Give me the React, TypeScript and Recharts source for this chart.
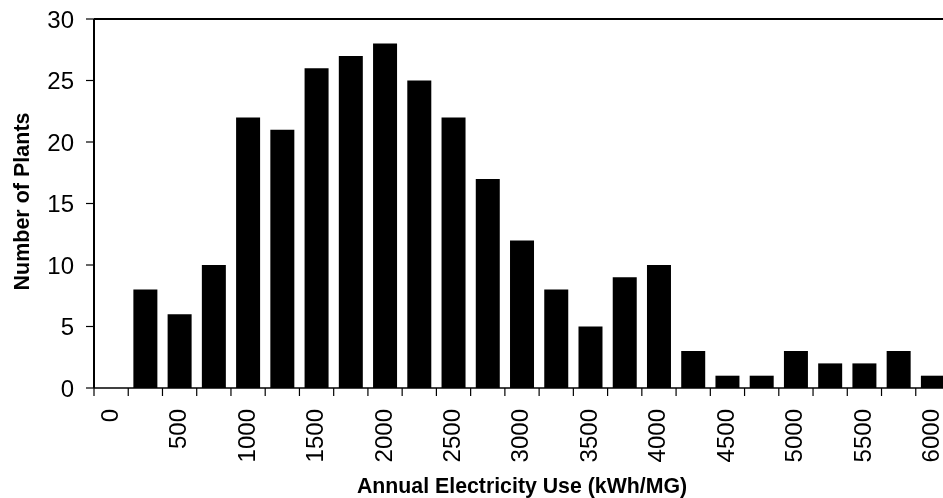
import { BarChart, Bar, XAxis, YAxis, ReferenceLine } from 'recharts';

// bins of annual electricity use (kWh/MG), one bar per 250
const binLabels = [
  '0', '250', '500', '750', '1000', '1250', '1500', '1750', '2000',
  '2250', '2500', '2750', '3000', '3250', '3500', '3750', '4000',
  '4250', '4500', '4750', '5000', '5250', '5500', '5750', '6000',
];
const plantCounts = [
  null, 8, 6, 10, 22, 21, 26, 27, 28, 25, 22, 17, 12,
  8, 5, 9, 10, 3, 1, 1, 3, 2, 2, 3, 1,
];
const yTicks = [0, 5, 10, 15, 20, 25, 30];

const font = '"Liberation Sans", Arial, sans-serif';

const data = binLabels.map((bin, i) => ({ bin, plants: plantCounts[i] }));

// excel-style axis: tick marks sit on the bin edges, label every other bin
const BinTick = (props: any) => {
  const { x, y, payload, index, width, visibleTicksCount } = props;
  const band = width / visibleTicksCount;
  const edge = x - band / 2;
  const ty = y + 21;
  return (
    <g>
      <line x1={edge} y1={y} x2={edge} y2={y + 8} stroke="#000" strokeWidth={1.2} />
      {index % 2 === 0 && (
        <text
          x={x}
          y={ty}
          transform={`rotate(-90, ${x}, ${ty})`}
          textAnchor="end"
          dy="0.27em"
          fontSize={24}
          fontFamily={font}
          fill="#000"
        >
          {payload.value}
        </text>
      )}
    </g>
  );
};

export default function App() {
  // fixed box so the wider-than-window plot is clipped without scrollbars
  return (
    <div style={{ position: 'fixed', left: 8, top: 0, width: 935, height: 498, overflow: 'hidden' }}>
      <BarChart
        width={950}
        height={498}
        data={data}
        margin={{ top: 19, right: 8, left: 0, bottom: 0 }}
        barCategoryGap="15%"
        style={{ fontFamily: font }}
      >
        <XAxis
          dataKey="bin"
          interval={0}
          tickLine={false}
          tickSize={0}
          tickMargin={0}
          height={110}
          axisLine={{ stroke: '#000', strokeWidth: 1.5 }}
          tick={<BinTick />}
          label={{
            value: 'Annual Electricity Use (kWh/MG)',
            position: 'insideBottom',
            offset: 5,
            fontSize: 21.3,
            fontWeight: 'bold',
            fill: '#000',
          }}
        />
        <YAxis
          width={86}
          domain={[0, 30]}
          ticks={yTicks}
          interval={0}
          tickSize={8}
          tickMargin={12}
          axisLine={{ stroke: '#000', strokeWidth: 2 }}
          tickLine={{ stroke: '#000', strokeWidth: 1.2 }}
          tick={{ fontSize: 24, fill: '#000', fontFamily: font }}
          label={{
            value: 'Number of Plants',
            angle: -90,
            position: 'center',
            dx: -30,
            dy: -2,
            fontSize: 21.5,
            fontWeight: 'bold',
            fill: '#000',
          }}
        />
        <ReferenceLine y={30} stroke="#000" strokeWidth={2} />
        <Bar dataKey="plants" fill="#000" isAnimationActive={false} />
      </BarChart>
    </div>
  );
}
